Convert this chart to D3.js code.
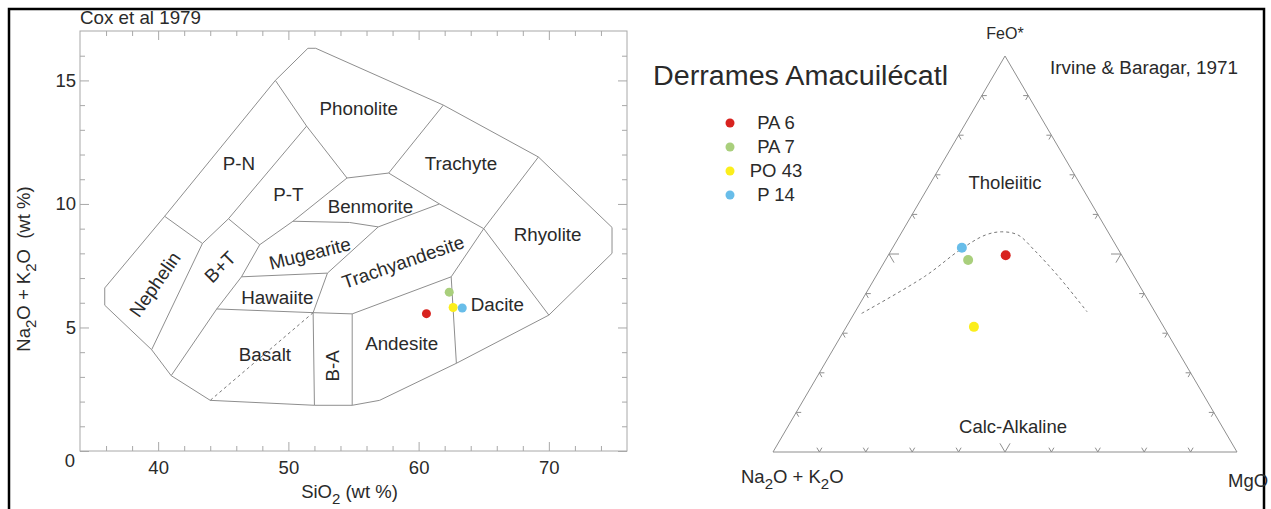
<!DOCTYPE html>
<meta charset="utf-8" />
<title>TAS and AFM diagrams</title>
<style>
  body { margin: 0; background: #fff; }
  svg { display: block; font-family: "Liberation Sans", Arial, sans-serif; }
  .frame { fill: none; stroke: #000; stroke-width: 2.5px; }
  .plot-box { fill: none; stroke: #a8a8a8; stroke-width: 1px; }
  .axis line { stroke: #a8a8a8; }
  .axis text { font-size: 18.5px; fill: #2a2a2a; font-family: "Liberation Sans", Arial, sans-serif; }
  .field { fill: none; stroke: #8e8e8e; stroke-width: 1px; }
  .divider { fill: none; stroke: #777; stroke-width: 1px; stroke-dasharray: 3,3; }
  text { fill: #2a2a2a; white-space: pre; }
</style>
<body>
<svg width="1271" height="509"></svg>
<script src="https://d3js.org/d3.v7.min.js"></script>
<script>
  // ---- data ----
  const samples = ["PA 6", "PA 7", "PO 43", "P 14"];
  const sampleColors = ["#d8231f", "#a9cf7c", "#fbee1c", "#68bde9"];
  // TAS (wt %)
  const silica = [60.6, 62.35, 62.65, 63.35];
  const alkalis = [5.56, 6.43, 5.81, 5.79];
  // AFM (%): A = Na2O+K2O, F = FeO*, M = MgO
  const afmA = [25.0, 33.7, 40.9, 33.5];
  const afmF = [49.7, 48.5, 31.6, 51.6];
  const afmM = [25.3, 17.8, 27.5, 14.9];

  const siTicks = [40, 50, 60, 70];
  const alkTicks = [0, 5, 10, 15];

  // Cox et al 1979 field outline and internal boundaries [SiO2, Na2O+K2O]
  const tasOutline = [[51.5,16.3],[52.1,16.3],[61.9,14.0],[69.2,11.9],[74.85,9.05],[74.85,8.0],[70.0,5.5],
    [62.9,3.55],[57.0,2.05],[54.9,1.85],[52.0,1.85],[44.0,2.05],[41.0,3.05],[39.5,4.1],[35.9,5.9],
    [35.9,6.6],[40.5,9.5],[49.0,15.0]];
  const tasLines = [
    [[40.5,9.5],[43.4,8.4],[39.5,4.1]],
    [[43.4,8.4],[45.4,9.4],[51.4,13.15]],
    [[49.0,15.0],[51.4,13.15],[54.5,11.05]],
    [[54.5,11.05],[57.7,11.25],[61.9,14.0]],
    [[57.7,11.25],[61.6,10.0],[65.0,9.0],[69.2,11.9]],
    [[54.5,11.05],[50.35,9.3],[47.8,8.35],[45.4,9.4]],
    [[47.8,8.35],[46.4,7.05],[44.5,5.75],[41.0,3.05]],
    [[50.35,9.3],[54.7,9.25],[56.9,9.07],[61.6,10.0]],
    [[56.9,9.07],[53.0,7.2],[51.9,5.6],[52.0,1.85]],
    [[46.4,7.05],[53.0,7.2]],
    [[44.5,5.75],[51.9,5.6],[54.9,5.55],[62.5,7.05],[65.0,9.0]],
    [[54.9,5.55],[54.9,1.85]],
    [[62.5,7.05],[62.9,3.55]],
    [[65.0,9.0],[70.0,5.5]]
  ];
  const tasDashed = [[51.9,5.6],[44.0,2.05]];
  const tasNames = ["Phonolite","Trachyte","Rhyolite","P-N","P-T","Benmorite","Mugearite","Trachyandesite",
    "Hawaiite","Basalt","B-A","Andesite","Dacite","Nephelin","B+T"];
  const tasNameSi = [55.4, 63.25, 69.9, 46.2, 50.0, 56.3, 51.65, 58.8, 49.15, 48.2, 53.4, 58.7, 66.05, 39.75, 44.75];
  const tasNameAlk = [13.85, 11.65, 8.75, 11.65, 10.4, 9.9, 8.0, 7.65, 6.2, 3.9, 3.45, 4.37, 5.93, 6.75, 7.45];
  const tasNameAngle = [0, 0, 0, 0, 0, 0, -14, -19, 0, 0, -90, 0, 0, -55, -45];

  // Irvine & Baragar 1971 dividing curve [A, F, M]
  const ibCurve = [[63.4,35.0,1.6],[45.2,44.3,10.5],[33.9,51.2,14.9],[26.8,54.8,18.4],[22.9,55.6,21.5],
    [19.8,54.8,25.4],[18.2,51.0,30.8],[16.3,44.3,39.4],[14.6,35.4,50.0]];
  const ternTicks = d3.range(10, 100, 10);

  const svg = d3.select("svg");
  svg.append("rect").attr("width", 1271).attr("height", 509).attr("fill", "#fff");
  svg.append("path").attr("class", "frame").attr("d", "M9,515V9H1264V515");

  // ---- TAS diagram ----
  const x = d3.scaleLinear().domain([34, 76]).range([80, 627]);
  const y = d3.scaleLinear().domain([0, 17]).range([451, 31]);

  svg.append("rect").attr("class", "plot-box")
    .attr("x", x(34)).attr("y", y(17)).attr("width", x(76) - x(34)).attr("height", y(0) - y(17));

  const siMinor = d3.range(36, 76, 2).filter(v => !siTicks.includes(v));
  const alkMinor = d3.range(1, 17).filter(v => !alkTicks.includes(v));

  function addAxis(axis, tr) {
    const g = svg.append("g").attr("class", "axis").attr("transform", tr).call(axis);
    g.select(".domain").remove();
    return g;
  }
  // bottom
  addAxis(d3.axisBottom(x).tickValues(siMinor).tickSize(-5).tickFormat(""), `translate(0,${y(0)})`);
  addAxis(d3.axisBottom(x).tickValues(siTicks).tickSize(-9).tickPadding(10), `translate(0,${y(0)})`);
  // top
  addAxis(d3.axisTop(x).tickValues(siMinor).tickSize(-5).tickFormat(""), `translate(0,${y(17)})`);
  addAxis(d3.axisTop(x).tickValues(siTicks).tickSize(-9).tickFormat(""), `translate(0,${y(17)})`);
  // left
  addAxis(d3.axisLeft(y).tickValues(alkMinor).tickSize(-5).tickFormat(""), `translate(${x(34)},0)`);
  const yl = addAxis(d3.axisLeft(y).tickValues(alkTicks).tickSize(-9).tickPadding(4), `translate(${x(34)},0)`);
  yl.selectAll(".tick").filter(d => d === 0).select("text").attr("dy", "0.85em").attr("x", -5);
  // right
  addAxis(d3.axisRight(y).tickValues(alkMinor).tickSize(-5).tickFormat(""), `translate(${x(76)},0)`);
  addAxis(d3.axisRight(y).tickValues(alkTicks).tickSize(-9).tickFormat(""), `translate(${x(76)},0)`);

  const tasLine = d3.line().x(d => x(d[0])).y(d => y(d[1]));
  svg.append("path").attr("class", "field").attr("d", tasLine(tasOutline) + "Z");
  svg.append("g").selectAll("path").data(tasLines).join("path")
    .attr("class", "field").attr("d", tasLine);
  svg.append("path").attr("class", "divider").attr("d", tasLine(tasDashed));

  svg.append("g").selectAll("text").data(tasNames).join("text")
    .attr("transform", (d, i) => `translate(${x(tasNameSi[i])},${y(tasNameAlk[i])}) rotate(${tasNameAngle[i]})`)
    .attr("text-anchor", "middle").attr("dy", "0.35em")
    .attr("font-size", 18.8)
    .text(d => d);

  svg.append("g").selectAll("circle").data(samples).join("circle")
    .attr("cx", (d, i) => x(silica[i])).attr("cy", (d, i) => y(alkalis[i]))
    .attr("r", 4.5).attr("fill", (d, i) => sampleColors[i]);

  svg.append("text").attr("x", 80).attr("y", 24).attr("font-size", 18.5)
    .attr("textLength", 121).attr("lengthAdjust", "spacingAndGlyphs").text("Cox et al 1979");

  const xt = svg.append("text").attr("x", (x(34) + x(76)) / 2 - 4).attr("y", 498)
    .attr("text-anchor", "middle").attr("font-size", 18.5);
  xt.append("tspan").text("SiO");
  xt.append("tspan").attr("dy", 6).attr("font-size", 15).text("2");
  xt.append("tspan").attr("dy", -6).text(" (wt %)");

  const ytl = svg.append("text").attr("transform", "translate(30,269) rotate(-90)")
    .attr("text-anchor", "middle").attr("font-size", 18.5);
  ytl.append("tspan").text("Na");
  ytl.append("tspan").attr("dy", 6).attr("font-size", 15).text("2");
  ytl.append("tspan").attr("dy", -6).text("O + K");
  ytl.append("tspan").attr("dy", 6).attr("font-size", 15).text("2");
  ytl.append("tspan").attr("dy", -6).text("O  (wt %)");

  // ---- AFM ternary ----
  const triLeft = [773, 452], triTop = [1005, 56], triRight = [1237, 452];
  const fy = d3.scaleLinear().domain([0, 100]).range([triLeft[1], triTop[1]]);
  const mx = d3.scaleLinear().domain([0, 100]).range([0, triRight[0] - triLeft[0]]);
  const tern = (a, f, m) => {
    const s = (a + f + m) / 100;
    return [triLeft[0] + mx(m / s) + mx(f / s) / 2, fy(f / s)];
  };

  svg.append("path").attr("class", "field")
    .attr("d", d3.line()([tern(100,0,0), tern(0,100,0), tern(0,0,100)]) + "Z");

  // tick chevrons along each edge
  const edges = [
    { from: [100,0,0], to: [0,0,100] }, // bottom
    { from: [100,0,0], to: [0,100,0] }, // left
    { from: [0,0,100], to: [0,100,0] }  // right
  ];
  const corners = [tern(100,0,0), tern(0,100,0), tern(0,0,100)];
  const unit = (p, q) => { const dx = q[0]-p[0], dy = q[1]-p[1], l = Math.hypot(dx, dy); return [dx/l, dy/l]; };
  const tickSegs = [];
  edges.forEach((e, ei) => {
    // inward grid directions: parallel to the other two edges
    const dirs = ei === 0 ? [unit(corners[0], corners[1]), unit(corners[2], corners[1])]
      : ei === 1 ? [unit(corners[0], corners[2]), unit(corners[1], corners[2])]
      : [unit(corners[2], corners[0]), unit(corners[1], corners[0])];
    ternTicks.forEach(t => {
      const c = e.from.map((v, k) => v + (e.to[k] - v) * t / 100);
      const p = tern(c[0], c[1], c[2]);
      const len = t === 50 ? 10 : 5;
      dirs.forEach(u => tickSegs.push([p, [p[0] + u[0] * len, p[1] + u[1] * len]]));
    });
  });
  svg.append("g").selectAll("path").data(tickSegs).join("path")
    .attr("class", "field").attr("d", d => d3.line()(d));

  svg.append("path").attr("class", "divider")
    .attr("d", d3.line().curve(d3.curveCatmullRom)(ibCurve.map(d => tern(d[0], d[1], d[2]))));

  svg.append("g").selectAll("circle").data(samples).join("circle")
    .attr("cx", (d, i) => tern(afmA[i], afmF[i], afmM[i])[0])
    .attr("cy", (d, i) => tern(afmA[i], afmF[i], afmM[i])[1])
    .attr("r", 5).attr("fill", (d, i) => sampleColors[i]);

  svg.append("text").attr("x", 1005).attr("y", 39).attr("text-anchor", "middle").attr("font-size", 16).text("FeO*");
  svg.append("text").attr("x", 1050).attr("y", 74).attr("font-size", 18)
    .attr("textLength", 188).attr("lengthAdjust", "spacingAndGlyphs").text("Irvine & Baragar, 1971");
  svg.append("text").attr("x", 653).attr("y", 85).attr("font-size", 27)
    .attr("textLength", 295).attr("lengthAdjust", "spacingAndGlyphs").text("Derrames Amacuilécatl");
  svg.append("text").attr("x", 1005).attr("y", 189).attr("text-anchor", "middle").attr("font-size", 18.5).text("Tholeiitic");
  svg.append("text").attr("x", 1013).attr("y", 433).attr("text-anchor", "middle").attr("font-size", 18.5).text("Calc-Alkaline");

  const al = svg.append("text").attr("x", 741).attr("y", 483).attr("font-size", 18.5);
  al.append("tspan").text("Na");
  al.append("tspan").attr("dy", 6).attr("font-size", 15).text("2");
  al.append("tspan").attr("dy", -6).text("O + K");
  al.append("tspan").attr("dy", 6).attr("font-size", 15).text("2");
  al.append("tspan").attr("dy", -6).text("O");
  svg.append("text").attr("x", 1228).attr("y", 487).attr("font-size", 18.5).text("MgO");

  // legend
  const legY = d3.scaleLinear().domain([0, samples.length - 1]).range([123, 195]);
  const leg = svg.append("g").selectAll("g").data(samples).join("g")
    .attr("transform", (d, i) => `translate(0,${legY(i)})`);
  leg.append("circle").attr("cx", 730).attr("r", 4.5).attr("fill", (d, i) => sampleColors[i]);
  leg.append("text").attr("x", 776).attr("dy", "0.35em").attr("text-anchor", "middle")
    .attr("font-size", 18.5).text(d => d);
</script>
</body>
